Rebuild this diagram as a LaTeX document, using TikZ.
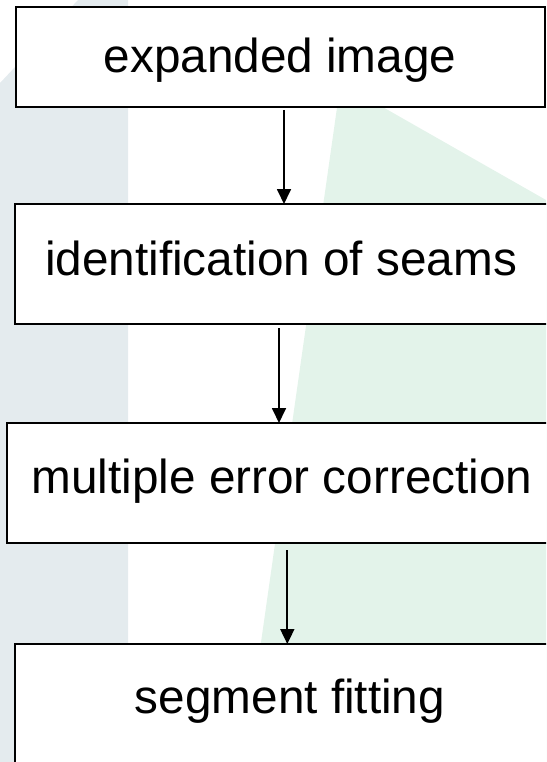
\documentclass[tikz,border=0pt]{standalone}
\usepackage{fontspec}
\setmainfont{Liberation Sans}
\usetikzlibrary{arrows.meta}
\definecolor{bandgrey}{HTML}{E4EBEE}
\definecolor{bandgreen}{HTML}{E3F3EA}
\tikzset{
  stepbox/.style={draw=black, line width=2pt, fill=white, rectangle,
    inner sep=0pt, outer sep=0pt},
  lbl/.style={anchor=base, inner sep=0pt, outer sep=0pt,
    font=\fontsize{47.7}{57}\selectfont},
  flow/.style={line width=1.8pt, -{Triangle[length=15pt,width=14pt]}}
}
\begin{document}
\begin{tikzpicture}[x=1pt, y=-1pt]
  \useasboundingbox (0,0) rectangle (546,762);
  \clip (0,0) rectangle (546,762);
  % background bands
  \fill[bandgrey] (0,83) -- (78,0) -- (128,0) -- (128,762) -- (0,762) -- cycle;
  \fill[bandgreen] (340.5,83) -- (546,200) -- (546,762) -- (244,762) -- cycle;
  % process boxes
  \node[stepbox, minimum width=529.3pt, minimum height=100pt] (box1) at (280.35,57) {};
  \node[stepbox, minimum width=533pt, minimum height=120pt] (box2) at (281.5,264) {};
  \node[stepbox, minimum width=551pt, minimum height=120pt] (box3) at (282.5,483) {};
  \node[stepbox, minimum width=551pt, minimum height=140pt] (box4) at (290.5,714) {};
  % labels
  \node[lbl] (t1) at (280,73) {expanded image};
  \node[lbl] (t2) at (281,275) {identification of seams};
  \node[lbl] (t3) at (282,493) {multiple error correction};
  \node[lbl] (t4) at (290,713) {segment fitting};
  % connectors
  \coordinate (s1) at (284,110);
  \coordinate (s2) at (279,328);
  \coordinate (s3) at (287.3,550);
  \draw[flow] (s1) -- (s1 |- box2.north);
  \draw[flow] (s2) -- (s2 |- box3.north);
  \draw[flow] (s3) -- (s3 |- box4.north);
\end{tikzpicture}
\end{document}
